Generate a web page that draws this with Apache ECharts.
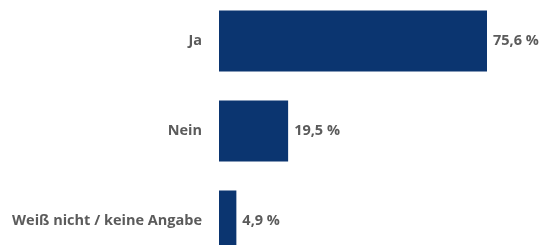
<!DOCTYPE html>
<html>
<head>
<meta charset="utf-8">
<script src="https://cdn.jsdelivr.net/npm/echarts@6/dist/echarts.min.js"></script>
<style>
  html, body { margin: 0; padding: 0; background: #fff; }
  #chart { width: 545px; height: 245px; }
</style>
</head>
<body>
<div id="chart"></div>
<script>
// Antworten und Anteile in Prozent
var categories = ['Ja', 'Nein', 'Weiß nicht / keine Angabe'];
var shares = [75.6, 19.5, 4.9];

var textColor = '#5b5b5b';
var barColor = '#0b3570';

var chart = echarts.init(document.getElementById('chart'), null, { renderer: 'canvas' });

var option = {
    animation: false,
    grid: {
        left: 219,
        top: -4,
        width: 354.5,
        height: 270,
        containLabel: false,
        outerBoundsMode: 'none'
    },
    xAxis: {
        type: 'value',
        min: 0,
        max: 100,
        show: false
    },
    yAxis: {
        type: 'category',
        data: categories,
        inverse: true,
        axisLine: { show: false },
        axisTick: { show: false },
        axisLabel: {
            margin: 17,
            color: textColor,
            fontFamily: 'Open Sans',
            fontWeight: 'bold',
            fontSize: 14.5
        }
    },
    series: [{
        type: 'bar',
        data: shares,
        barWidth: 61,
        itemStyle: { color: barColor },
        label: {
            show: true,
            position: 'right',
            distance: 6,
            color: textColor,
            fontFamily: 'Open Sans',
            fontWeight: 'bold',
            fontSize: 14.5,
            formatter: function (p) {
                return p.value.toFixed(1).replace('.', ',') + ' %';
            }
        }
    }]
};

chart.setOption(option);
</script>
</body>
</html>
